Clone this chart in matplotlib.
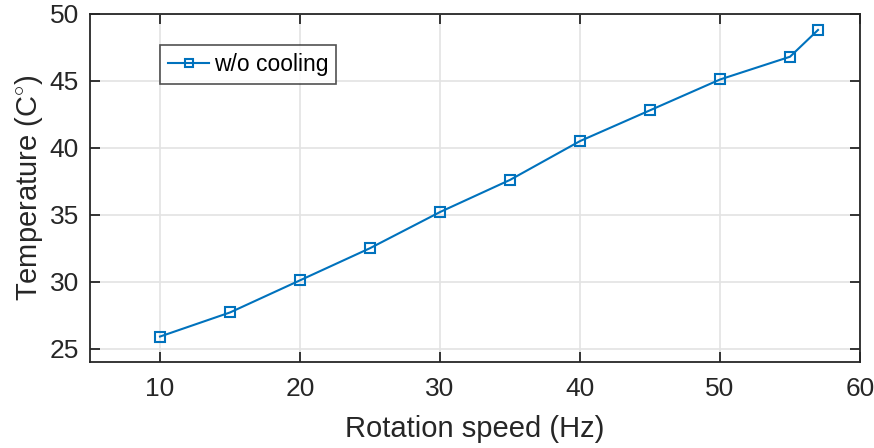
import matplotlib
matplotlib.use("Agg")
import matplotlib.pyplot as plt

speed = [10, 15, 20, 25, 30, 35, 40, 45, 50, 55, 57]
temp = [25.9, 27.7, 30.1, 32.5, 35.2, 37.6, 40.5, 42.8, 45.1, 46.8, 48.8]
xticks = [10, 20, 30, 40, 50, 60]
yticks = [25, 30, 35, 40, 45, 50]

plt.rcParams['font.family'] = ['Liberation Sans', 'DejaVu Sans']
plt.rcParams['mathtext.fontset'] = 'custom'
plt.rcParams['mathtext.rm'] = 'Liberation Sans'
plt.rcParams['mathtext.it'] = 'Liberation Sans'

dark = '#262626'
fig = plt.figure(figsize=(8.74, 4.48), dpi=100)
ax = fig.add_axes([0.103, 0.192, 0.881, 0.777])
ax.plot(speed, temp, '-s', color='#0072BD', lw=1.5, ms=7, mfc='none', mew=1.5,
        label='w/o cooling')
ax.set_xlim(5, 60)
ax.set_ylim(24, 50)
ax.set_xticks(xticks)
ax.set_yticks(yticks)
ax.grid(True, color='#e3e3e3', lw=1.2)
ax.set_axisbelow(True)
for s in ax.spines.values():
    s.set_color(dark)
    s.set_linewidth(1.3)
ax.tick_params(direction='in', length=7, width=1.3, colors=dark, labelsize=19,
               top=True, right=True, pad=8)
ax.tick_params(axis='x', pad=11)
ax.set_xlabel('Rotation speed (Hz)', fontsize=21, color=dark, labelpad=10)
ax.set_ylabel(r'Temperature (C$^{\circ}$)', fontsize=21, color=dark, labelpad=3)
leg = ax.legend(loc='upper left', bbox_to_anchor=(0.091, 0.91), fontsize=16.5,
                frameon=True, fancybox=False, edgecolor=dark, handlelength=1.8,
                borderpad=0.35, handletextpad=0.2, borderaxespad=0,
                markerscale=0.85)
leg.get_frame().set_linewidth(1.2)
for t in leg.get_texts():
    t.set_color('black')
fig.savefig('out.png', dpi=100)
